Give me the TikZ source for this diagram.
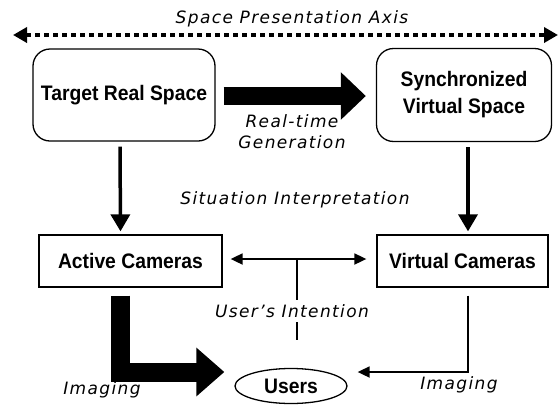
\documentclass[tikz,border=0pt]{standalone}
\usepackage{fontspec}
\usetikzlibrary{arrows.meta,calc,shapes.geometric}
\newfontfamily\boxfont[FakeStretch=0.92]{Liberation Sans}
\newfontfamily\labelfont[LetterSpace=8]{DejaVu Sans Oblique}
\begin{document}
\begin{tikzpicture}[x=1pt,y=-1pt,
  rbox/.style={draw, rounded corners=17pt, line width=1.3pt, align=center,
               font=\boxfont\bfseries\fontsize{21}{27}\selectfont},
  sbox/.style={draw, line width=1.3pt, align=center,
               font=\boxfont\bfseries\fontsize{21}{27}\selectfont},
  lbl/.style={font=\labelfont\fontsize{17}{21}\selectfont, align=center, inner sep=1pt},
  bigarrow/.style={line width=18pt, -{Triangle[length=25pt,width=46pt]}},
  downarrow/.style={line width=3.5pt, -{Triangle[length=17pt,width=19pt]}},
  thinarrow/.style={line width=1.8pt, -{Triangle[length=12pt,width=11pt]}},
  axisline/.style={line width=4pt, dash pattern=on 5pt off 4pt,
                   {Triangle[length=14pt,width=15pt]}-{Triangle[length=14pt,width=15pt]}}
]
\useasboundingbox (0,0) rectangle (560,405);

% space presentation axis
\coordinate (axl) at (13,35);
\coordinate (axr) at (558,35);
\draw[axisline] (axl) -- (axr);
\node[lbl] (axlbl) at (292,19) {Space Presentation Axis};

% upper row: real and virtual spaces
\node[rbox, minimum width=182pt, minimum height=92pt] (target) at (124,95) {Target Real Space};
\node[rbox, minimum width=175pt, minimum height=93pt] (sync) at (464,95)
  {Synchronized\\Virtual Space};

% lower row: cameras
\node[sbox, minimum width=183pt, minimum height=52pt] (active) at (130.5,261) {Active Cameras};
\node[sbox, minimum width=171pt, minimum height=52pt] (virtual) at (462.5,261) {Virtual Cameras};

% users
\node[draw, ellipse, line width=1.3pt, minimum width=112pt, minimum height=35pt,
      font=\boxfont\bfseries\fontsize{21}{27}\selectfont] (users) at (291,386) {Users};

% real-time generation
\draw[bigarrow, shorten <=8pt, shorten >=10pt] (target.east |- 0,96) -- (sync.west |- 0,96);
\node[lbl] (gen) at (292,132) {Real-time\\Generation};

% situation interpretation
\draw[downarrow, shorten <=5pt, shorten >=3pt] ([xshift=-4pt]target.south) -- ([xshift=-10pt]active.north);
\draw[downarrow, shorten <=5pt, shorten >=3pt] ([xshift=4pt]sync.south) -- ([xshift=5.5pt]virtual.north);
\node[lbl] (sit) at (295,200) {Situation Interpretation};

% user's intention
\draw[thinarrow, {Triangle[length=12pt,width=11pt]}-{Triangle[length=12pt,width=11pt]},
      shorten <=8pt, shorten >=10pt] (active.east |- 0,259) -- (virtual.west |- 0,259);
\coordinate (mid) at (297,259);
\coordinate (intent) at (297,340);
\draw[line width=1.8pt] (mid) -- (intent);
\node[lbl, fill=white, inner ysep=4pt] (ui) at (292,311) {User’s Intention};

% imaging
\draw[bigarrow, line width=19pt, -{Triangle[length=28pt,width=47pt]}, shorten >=10pt]
  ($(active.south)+(-10.5,8)$) |- ($(users.west)+(0,-14)$);
\draw[thinarrow, shorten >=10pt] ($(virtual.south)+(5.5,8)$) |- ($(users.east)+(0,-14)$);
\node[lbl] (img1) at (102,390) {Imaging};
\node[lbl] (img2) at (459,385) {Imaging};
\end{tikzpicture}
\end{document}
